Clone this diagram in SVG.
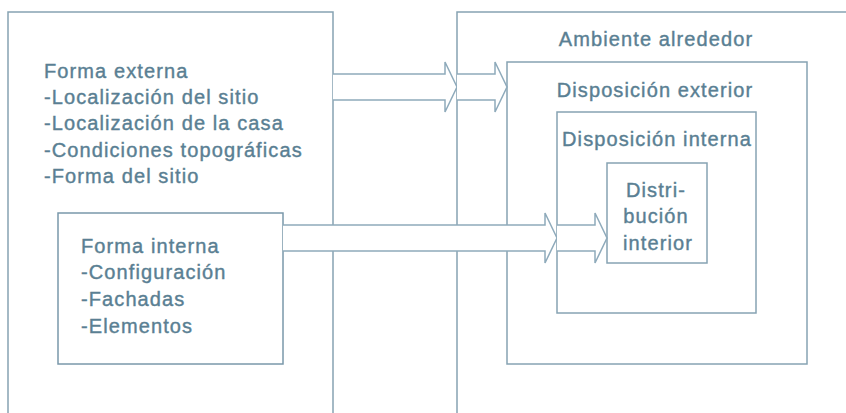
<svg xmlns="http://www.w3.org/2000/svg" width="846" height="413" viewBox="0 0 846 413">
<style>
.box{fill:none;stroke:#86a3b3;stroke-width:1.5}
.dark{stroke:#7a98aa}
.arrow{fill:#ffffff;stroke:#8eaabb;stroke-width:1.5;stroke-linejoin:miter}
text{font-family:"Liberation Sans","DejaVu Sans",sans-serif;font-size:20px;fill:#5a7f93;stroke:#5a7f93;stroke-width:0.4px;letter-spacing:1.1px}
.c{text-anchor:middle}
</style>
<rect width="846" height="413" fill="#ffffff"/>
<g id="forma-externa">
<path class="box" d="M8,420 V12 H333 V420"/>
<text x="44" y="78">Forma externa</text>
<text x="44" y="104">-Localización del sitio</text>
<text x="44" y="130">-Localización de la casa</text>
<text x="44" y="157">-Condiciones topográficas</text>
<text x="44" y="183">-Forma del sitio</text>
</g>
<g id="forma-interna">
<rect class="box dark" x="58" y="213" width="225" height="151"/>
<text x="81" y="253">Forma interna</text>
<text x="81" y="279">-Configuración</text>
<text x="81" y="306">-Fachadas</text>
<text x="81" y="333">-Elementos</text>
</g>
<g id="ambiente-alrededor">
<path class="box" d="M457,420 V12 H850"/>
<text class="c" x="656" y="46">Ambiente alrededor</text>
</g>
<g id="disposicion-exterior">
<rect class="box" x="507" y="62" width="300" height="302"/>
<text class="c" x="655" y="97">Disposición exterior</text>
</g>
<g id="disposicion-interna">
<rect class="box" x="557" y="112" width="199" height="201"/>
<text class="c" x="657" y="146">Disposición interna</text>
</g>
<g id="distribucion-interior">
<rect class="box" x="607" y="163" width="100" height="100"/>
<text class="c" x="656" y="197">Distri-</text>
<text class="c" x="656" y="223">bución</text>
<text class="c" x="658" y="250">interior</text>
</g>
<g id="connectors">
<path class="arrow" d="M333,74 H445 V62 L457,87 L445,112 V100 H333"/>
<path class="arrow" d="M457,74 H495 V62 L507,87 L495,112 V100 H457"/>
<path class="arrow" d="M283,225 H545 V213 L557,238 L545,263 V251 H283"/>
<path class="arrow" d="M557,225 H595 V213 L607,238 L595,263 V251 H557"/>
</g>
</svg>
